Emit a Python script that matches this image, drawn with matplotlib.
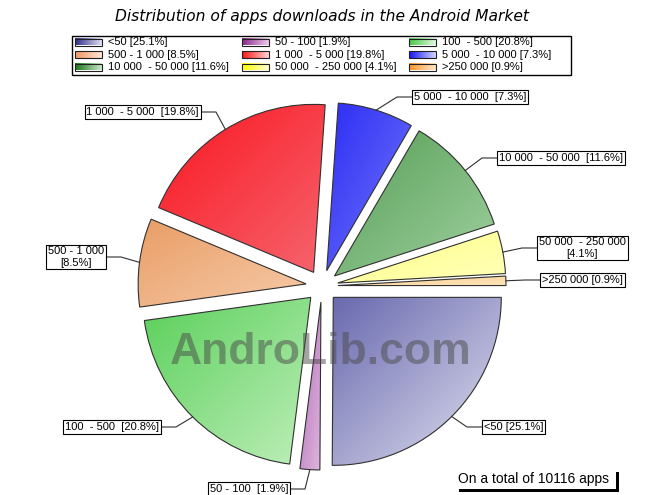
import numpy as np
import matplotlib
matplotlib.use("Agg")
import matplotlib.pyplot as plt
from matplotlib.patches import Rectangle

# ---------------- data ----------------
categories = ["<50", "50 - 100", "100  - 500", "500 - 1 000", "1 000  - 5 000",
              "5 000  - 10 000", "10 000  - 50 000", "50 000  - 250 000", ">250 000"]
percentages = [25.1, 1.9, 20.8, 8.5, 19.8, 7.3, 11.6, 4.1, 0.9]
total_apps = 10116
title = "Distribution of apps downloads in the Android Market"
watermark = "AndroLib.com"

# ---------------- styles ----------------
slice_grad = [
    ((105, 105, 175), (225, 225, 240)),
    ((180, 105, 185), (222, 185, 222)),
    ((90, 208, 90), (190, 238, 185)),
    ((233, 158, 102), (246, 202, 168)),
    ((250, 22, 32), (246, 100, 110)),
    ((45, 45, 245), (115, 120, 250)),
    ((85, 158, 85), (160, 208, 160)),
    ((255, 255, 135), (255, 255, 185)),
    ((250, 208, 148), (252, 228, 185)),
]
legend_grad = [
    ((45, 45, 135), (225, 225, 245)),
    ((135, 40, 135), (240, 205, 240)),
    ((70, 200, 70), (225, 250, 225)),
    ((240, 150, 100), (255, 232, 212)),
    ((250, 20, 20), (255, 212, 212)),
    ((20, 20, 250), (212, 212, 255)),
    ((25, 120, 25), (205, 232, 205)),
    ((255, 255, 0), (255, 255, 212)),
    ((255, 150, 40), (255, 232, 200)),
]
# callout layout: (x of box edge, y centre, side, separator)
callouts = [
    (482, 427, "left", " "),
    (290, 489, "right", "  "),
    (161, 427, "right", "  "),
    (106, 257, "right", "\n"),
    (201, 112, "right", "  "),
    (412, 97, "left", "  "),
    (497, 158, "left", "  "),
    (537, 248, "left", "\n"),
    (540, 280, "left", " "),
]

FONT = "Liberation Sans"
W, H = 646, 495
fig = plt.figure(figsize=(W / 100, H / 100), dpi=100)
ax = fig.add_axes([0, 0, 1, 1])


def grad_image(c1, c2, n=80, diagonal=True):
    c1 = np.array(c1) / 255.0
    c2 = np.array(c2) / 255.0
    u = np.linspace(0, 1, n)
    U, V = np.meshgrid(u, u)
    t = (U + V) / 2 if diagonal else U
    return c1 * (1 - t[..., None]) + c2 * t[..., None]


center = (322, 286)
R = 168
EXP = 16
wedges, _ = ax.pie(percentages, center=center, radius=R,
                   explode=[EXP] * len(percentages), startangle=0,
                   counterclock=True,
                   wedgeprops=dict(fc="none", ec="#303030", lw=0.8))

for w, (c1, c2) in zip(wedges, slice_grad):
    w.set_zorder(3)
    ext = w.get_path().get_extents()
    im = ax.imshow(grad_image(c1, c2), extent=(ext.x0, ext.x1, ext.y1, ext.y0),
                   origin="upper", interpolation="bilinear", zorder=2, aspect="auto")
    im.set_clip_path(w)

# callouts
for i, (w, (bx, by, side, sep)) in enumerate(zip(wedges, callouts)):
    tm = np.deg2rad((w.theta1 + w.theta2) / 2)
    cx, cy = w.center
    rx, ry = cx + R * np.cos(tm), cy + R * np.sin(tm)
    elbow = bx + 15 if side == "right" else bx - 15
    ax.plot([bx, elbow, rx], [by, by, ry], color="#303030", lw=0.8, zorder=4)
    txt = f"{categories[i]}{sep}[{percentages[i]}%]"
    pad_px = 2
    ax.text(bx - pad_px if side == "right" else bx + pad_px, by, txt,
            ha=side, va="center", multialignment="center",
            fontsize=8, family=FONT, zorder=6,
            bbox=dict(boxstyle="square,pad=0.15", fc="white", ec="black", lw=0.8))

# title
ax.text(322, 17, title, ha="center", va="center", fontsize=11.2,
        style="italic", family="DejaVu Sans", color="black")

# legend
ax.add_patch(Rectangle((72, 36), 499, 39, fc="white", ec="black", lw=1, zorder=1))
col_x = [75, 242, 409]
row_y = [42, 54.5, 67]
for i, (cat, pct) in enumerate(zip(categories, percentages)):
    r, c = divmod(i, 3)
    x0, yc = col_x[c], row_y[r]
    pw, ph = 27, 7
    ax.imshow(grad_image(*legend_grad[i], diagonal=False),
              extent=(x0, x0 + pw, yc + ph / 2, yc - ph / 2), origin="upper",
              interpolation="bilinear", zorder=2, aspect="auto")
    ax.add_patch(Rectangle((x0, yc - ph / 2), pw, ph, fc="none", ec="#202020",
                           lw=0.8, zorder=3))
    ax.text(x0 + 33, yc, f"{cat} [{pct}%]", ha="left", va="center",
            fontsize=8, family=FONT, zorder=3)

# watermark
ax.text(321, 364, watermark, ha="center", va="baseline", fontsize=32,
        fontweight="bold", family=FONT, color="#4a4a4a", alpha=0.5, zorder=5)

# total note with shadow
note = f"On a total of {total_apps} apps"
ax.add_patch(Rectangle((459, 472), 160, 20, fc="black", ec="none", zorder=6))
ax.add_patch(Rectangle((456, 469), 160, 20, fc="white", ec="none", zorder=6.5))
ax.text(458, 479, note, ha="left", va="center", fontsize=10, family=FONT,
        color="black", zorder=7)

ax.set_xlim(0, W)
ax.set_ylim(H, 0)
ax.set_aspect("auto")
ax.axis("off")
fig.savefig("out.png", dpi=100)
